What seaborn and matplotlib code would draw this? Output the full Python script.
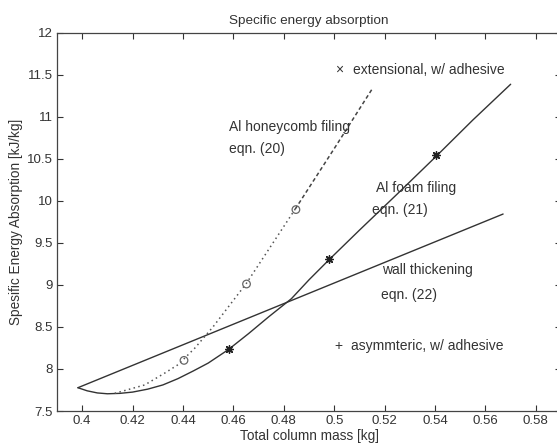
import numpy as np
import pandas as pd
import matplotlib
matplotlib.use("Agg")
import matplotlib.pyplot as plt
import seaborn as sns

# Al foam filling, eqn. (21)
foam_mass = [0.3983, 0.402, 0.406, 0.410, 0.415, 0.420, 0.426, 0.432, 0.438, 0.444,
             0.450, 0.458, 0.466, 0.474, 0.483, 0.490, 0.498, 0.510, 0.525, 0.5405,
             0.555, 0.570]
foam_sea = [7.777, 7.74, 7.715, 7.705, 7.71, 7.725, 7.76, 7.81, 7.885, 7.975,
            8.07, 8.23, 8.42, 8.62, 8.835, 9.06, 9.30, 9.65, 10.08, 10.53,
            10.96, 11.385]

# Al honeycomb filling, eqn. (20): dotted part and extrapolated (dashed) part
honey_mass = [0.4129, 0.4248, 0.4327, 0.438, 0.4446, 0.4519, 0.4652, 0.4845]
honey_sea = [7.71, 7.81, 7.95, 8.05, 8.245, 8.50, 9.02, 9.90]
honey_ext_mass = [0.4845, 0.500, 0.5152]
honey_ext_sea = [9.90, 10.62, 11.336]

# wall thickening, eqn. (22)
wall_mass = [0.3983, 0.567]
wall_sea = [7.777, 9.842]

# test points
asym_mass = [0.4581, 0.4978, 0.5405]
asym_sea = [8.233, 9.303, 10.543]
ext_mass = [0.4404, 0.4652, 0.4848]
ext_sea = [8.102, 9.01, 9.895]

sns.set_theme(style="ticks")
plt.rcParams["font.family"] = ["Liberation Sans", "DejaVu Sans"]

fig = plt.figure(figsize=(5.57, 4.43), dpi=100)
ax = fig.add_axes([0.1023, 0.0722, 0.905, 0.8544])

lc = "#333333"
sns.lineplot(x=foam_mass, y=foam_sea, ax=ax, color=lc, lw=1.0, sort=False)
sns.lineplot(x=wall_mass, y=wall_sea, ax=ax, color=lc, lw=1.0, sort=False)
sns.lineplot(x=honey_mass, y=honey_sea, ax=ax, color="#555555", lw=1.1,
             linestyle=(0, (1, 2.2)), sort=False)
sns.lineplot(x=honey_ext_mass, y=honey_ext_sea, ax=ax, color="#444444", lw=1.1,
             linestyle=(0, (2.5, 1.8)), sort=False)

ax.scatter(ext_mass, ext_sea, s=30, facecolors="none", edgecolors="#666666",
           linewidths=0.9, zorder=4)
ax.scatter(asym_mass, asym_sea, s=30, marker=(8, 2, 0), color="#222222",
           linewidths=1.0, zorder=4)

fs = 10.0
tc = "#333333"
ax.text(0.5019, 11.56, "×", fontsize=fs, color=tc, ha="center", va="center")
ax.text(0.5073, 11.56, "extensional, w/ adhesive", fontsize=fs, color=tc, va="center")
ax.text(0.5018, 8.27, "+", fontsize=fs, color=tc, ha="center", va="center")
ax.text(0.5068, 8.27, "asymmteric, w/ adhesive", fontsize=fs, color=tc, va="center")
ax.text(0.4583, 10.88, "Al honeycomb filing", fontsize=fs, color=tc, va="center")
ax.text(0.4583, 10.61, "eqn. (20)", fontsize=fs, color=tc, va="center")
ax.text(0.5165, 10.155, "Al foam filing", fontsize=fs, color=tc, va="center")
ax.text(0.5149, 9.89, "eqn. (21)", fontsize=fs, color=tc, va="center")
ax.text(0.5191, 9.18, "wall thickening", fontsize=fs, color=tc, va="center")
ax.text(0.5187, 8.88, "eqn. (22)", fontsize=fs, color=tc, va="center")

ax.set_xlim(0.39, 0.59)
ax.set_ylim(7.5, 12)
ax.set_xticks(np.arange(0.40, 0.5801, 0.02))
ax.set_xticklabels(["0.4", "0.42", "0.44", "0.46", "0.48", "0.5", "0.52", "0.54", "0.56", "0.58"])
ax.set_yticks(np.arange(7.5, 12.01, 0.5))
ax.set_yticklabels(["7.5", "8", "8.5", "9", "9.5", "10", "10.5", "11", "11.5", "12"])
ax.tick_params(direction="in", length=4, width=0.8, top=True, right=True,
               labelsize=9.5, colors=tc, pad=3)
for sp in ax.spines.values():
    sp.set_color("#444444")
    sp.set_linewidth(0.9)

ax.set_title("Specific energy absorption", fontsize=9.7, color=tc, pad=6)
ax.set_xlabel("Total column mass [kg]", fontsize=9.8, color=tc, labelpad=1)
ax.set_ylabel("Spesific Energy Absorption [kJ/kg]", fontsize=9.8, color=tc, labelpad=3)

fig.savefig("out.png", dpi=100)
